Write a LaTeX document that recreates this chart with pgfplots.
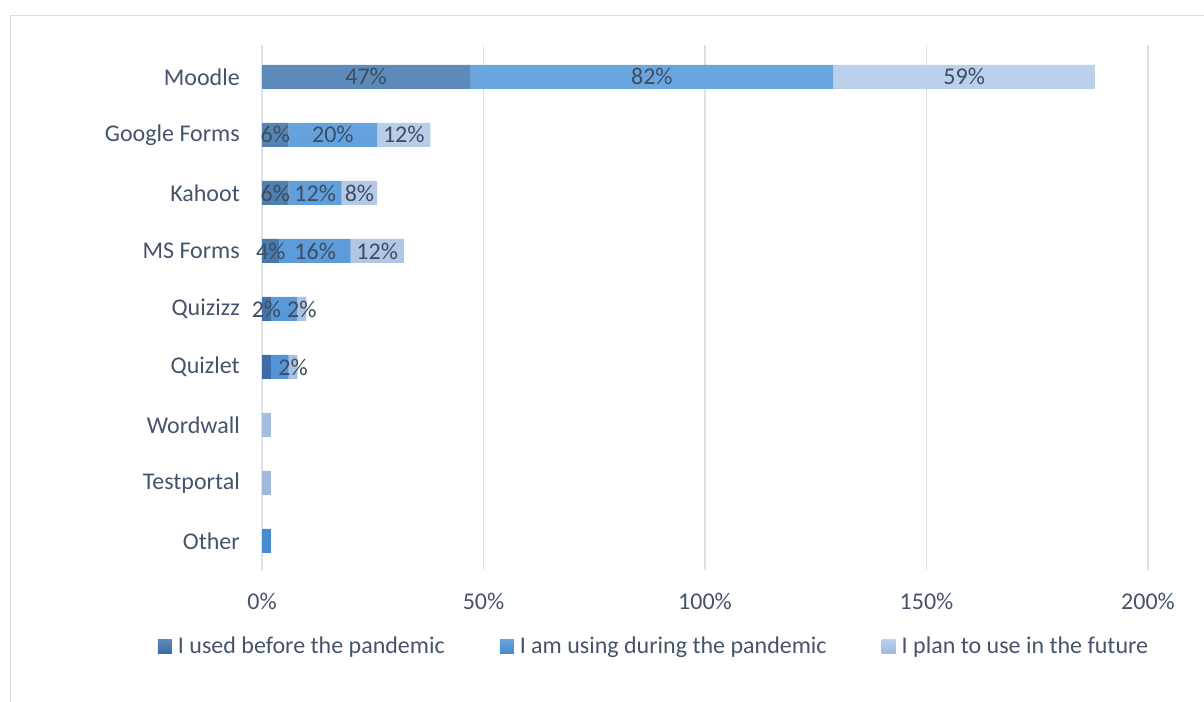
\documentclass[border=0pt]{standalone}
\usepackage{pgfplots}
\pgfplotsset{compat=1.18}
\usepackage{fontspec}
\setmainfont{Carlito}

\definecolor{txt}{HTML}{44546A}
\definecolor{lbl}{HTML}{3E4D61}
\definecolor{gridc}{HTML}{DFE2E7}
\definecolor{frame}{HTML}{D9D9D9}
\definecolor{dkT}{HTML}{5E8BBA}
\definecolor{dkB}{HTML}{3A6DA3}
\definecolor{mdT}{HTML}{6BA6DF}
\definecolor{mdB}{HTML}{468ACF}
\definecolor{ltT}{HTML}{BCD1EC}
\definecolor{ltB}{HTML}{A0B8DB}

% shared geometry of the plot area
\pgfplotsset{
  areabox/.style={
    at={(262pt,131pt)}, anchor=south west,
    scale only axis, width=886pt, height=525pt,
    xmin=0, xmax=200, ymin=-0.5, ymax=8.55,
  }
}

\begin{document}
\begin{tikzpicture}[font=\fontsize{24}{29}\selectfont, text=txt]
\path[use as bounding box] (0,0) rectangle (1204pt,701pt);
\draw[frame, line width=1.2pt] (10.5pt,-20pt) -- (10.5pt,685.5pt) -- (1300pt,685.5pt);

\begin{axis}[
  areabox,
  xbar stacked,
  bar width=24pt,
  axis line style={draw=none},
  major tick length=0pt,
  xmajorgrids,
  grid style={gridc, line width=1.6pt},
  xtick={0,50,100,150,200},
  xticklabels={0\%,50\%,100\%,150\%,200\%},
  xticklabel style={inner sep=0pt, yshift=-23pt, text=txt},
  ytick={0,...,8},
  yticklabels={Other,Testportal,Wordwall,Quizlet,Quizizz,MS Forms,Kahoot,Google Forms,Moodle},
  yticklabel style={inner sep=0pt, xshift=-22pt, text=txt},
  legend columns=3,
  legend style={at={(-0.1174,-0.1448)}, anchor=west, draw=none, fill=none,
    inner sep=0pt, outer sep=0pt,
    nodes={inner sep=0pt, text=txt},
    /tikz/every odd column/.append style={column sep=6pt},
    /tikz/every even column/.append style={column sep=55pt}},
  legend image code/.code={\path[#1] (0pt,-7pt) rectangle (14pt,7pt);},
]
\addplot[draw=none, top color=dkT, bottom color=dkB] coordinates {
  (0,0) (0,1) (0,2) (2,3) (2,4) (4,5) (6,6) (6,7) (47,8)};
\addplot[draw=none, top color=mdT, bottom color=mdB] coordinates {
  (2,0) (0,1) (0,2) (4,3) (6,4) (16,5) (12,6) (20,7) (82,8)};
\addplot[draw=none, top color=ltT, bottom color=ltB] coordinates {
  (0,0) (2,1) (2,2) (2,3) (2,4) (12,5) (8,6) (12,7) (59,8)};
\legend{I used before the pandemic, I am using during the pandemic, I plan to use in the future}
\end{axis}

% value labels, centred in their segments
\begin{axis}[areabox, hide axis]
\addplot[draw=none, mark=none, nodes near coords, point meta=explicit symbolic,
  nodes near coords align={center},
  every node near coord/.append style={inner sep=0pt, text=lbl}] coordinates {
  (23.5,8) [47\%] (88,8) [82\%] (158.5,8) [59\%]
  (3,7) [6\%] (16,7) [20\%] (32,7) [12\%]
  (3,6) [6\%] (12,6) [12\%] (22,6) [8\%]
  (2,5) [4\%] (12,5) [16\%] (26,5) [12\%]
  (1,4) [2\%] (9,4) [2\%]
  (7,3) [2\%]
};
\end{axis}
\end{tikzpicture}
\end{document}
